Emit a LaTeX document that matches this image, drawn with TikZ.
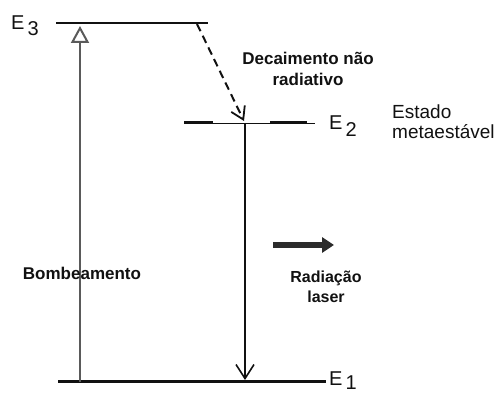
\documentclass[tikz,border=0pt]{standalone}
\usepackage{fontspec}
\setmainfont{Liberation Sans}
\setsansfont{Liberation Sans}
\usetikzlibrary{arrows.meta,positioning}
\definecolor{ink}{HTML}{111111}
\definecolor{faint}{HTML}{5A5A5A}
\definecolor{beam}{HTML}{2B2B2B}
\tikzset{
  font=\sffamily,
  level/.style={
    draw=ink,
    line width=2.8pt
  },
  thinlevel/.style={
    draw=ink,
    line width=0.9pt
  },
  pumpflow/.style={
    -{Triangle[open,length=17pt,width=18pt,line width=2pt]},
    draw=faint,
    line width=1.1pt
  },
  decayflow/.style={
    -{Straight Barb[length=12pt,width=15pt,line width=1.8pt]},
    draw=ink,
    line width=2pt,
    dash pattern=on 8pt off 5pt
  },
  emitflow/.style={
    -{Straight Barb[length=14pt,width=18pt,line width=1.6pt]},
    draw=ink,
    line width=1.1pt
  },
  beamflow/.style={
    -{Triangle[length=12pt,width=15pt]},
    draw=beam,
    line width=5.5pt
  },
  boldtext/.style={
    font=\sffamily\bfseries\fontsize{17}{21}\selectfont,
    text=ink,
    align=center,
    inner sep=0pt,
    anchor=north
  },
  leveltext/.style={
    font=\fontsize{20}{20}\selectfont,
    text=ink,
    inner sep=0pt,
    anchor=base west
  },
  sidetext/.style={
    font=\fontsize{19}{20}\selectfont,
    text=ink,
    align=left,
    inner sep=0pt,
    anchor=north west
  }
}

\begin{document}
\begin{tikzpicture}[x=1pt, y=-1pt]
  \useasboundingbox (0,0) rectangle (496,395);

  \coordinate (e3a) at (56,23);
  \coordinate (e3b) at (208,23);
  \coordinate (e2a) at (184,123);
  \coordinate (e2b) at (315,123);
  \coordinate (e1a) at (58,382);
  \coordinate (e1b) at (326,382);

  \draw[level] (e3a) -- (e3b);
  \draw[thinlevel] (e2a) -- (e2b);
  \draw[level, line width=3pt] (e2a) -- ++(29,0);
  \draw[level, line width=3pt] (270,123) -- (307,123);
  \draw[level, line width=3pt] (e1a) -- (e1b);

  \node[leveltext] (e3lbl) at (11,30) {E\kern3pt\raisebox{-6pt}{3}};
  \node[leveltext] (e2lbl) at (329,130) {E\kern3pt\raisebox{-7pt}{2}};
  \node[leveltext] (e1lbl) at (329,386) {E\kern3pt\raisebox{-4pt}{1}};

  \coordinate (pumpbot) at (80,382);
  \coordinate (pumptop) at (80,26);
  \coordinate (decaytop) at (197,24);
  \coordinate (decaybot) at (244,121);
  \coordinate (emittop) at (245,123);
  \coordinate (emitbot) at (245,380);
  \coordinate (beamtail) at (273,245);
  \coordinate (beamtip) at (334,245);

  \draw[pumpflow] (pumpbot) -- (pumptop);
  \draw[decayflow] (decaytop) -- (decaybot);
  \draw[emitflow] (emittop) -- (emitbot);
  \draw[beamflow] (beamtail) -- (beamtip);

  \node[boldtext] (pump) at (82,267) {Bombeamento};
  \node[boldtext] (decay) at (308,52) {Decaimento não\\radiativo};
  \node[boldtext, font=\sffamily\bfseries\fontsize{16}{20}\selectfont, below=26pt of beamtip, anchor=north, xshift=-8pt] (laser) {Radiação\\laser};
  \node[sidetext] (meta) at (392,105) {Estado\\metaestável};
\end{tikzpicture}
\end{document}
